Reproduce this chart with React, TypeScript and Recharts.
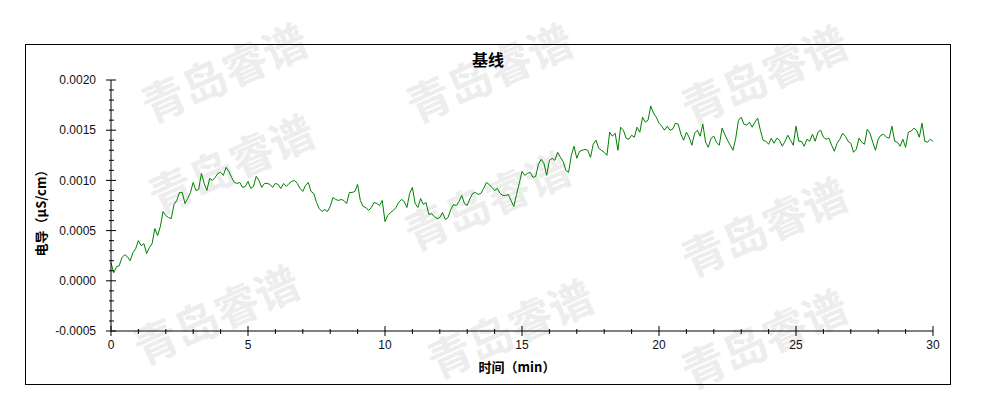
import { LineChart, Line, XAxis, YAxis } from "recharts"

// 基线 trace, one sample every 0.1 min, values in units of 1e-5 µS/cm
const SAMPLE_STEP_MIN = 0.1
const conductivityE5 = [
  18, 8, 14, 15, 23, 26, 24, 20, 28, 32,
  40, 35, 37, 27, 33, 37, 52, 45, 54, 69,
  65, 63, 62, 76, 80, 88, 88, 77, 82, 88,
  98, 90, 91, 107, 97, 90, 102, 100, 103, 107,
  108, 105, 113, 109, 103, 98, 97, 98, 93, 94,
  99, 92, 94, 104, 100, 93, 97, 97, 96, 93,
  97, 96, 92, 97, 94, 97, 99, 100, 97, 92,
  89, 95, 98, 89, 87, 78, 72, 69, 71, 69,
  74, 83, 81, 80, 81, 80, 77, 88, 88, 89,
  96, 80, 74, 73, 70, 73, 78, 77, 75, 80,
  59, 65, 68, 70, 73, 78, 81, 79, 73, 87,
  93, 77, 73, 82, 76, 78, 66, 67, 64, 62,
  63, 68, 61, 63, 71, 76, 75, 79, 85, 77,
  75, 82, 87, 88, 86, 87, 92, 98, 96, 93,
  90, 92, 87, 85, 85, 86, 80, 74, 86, 97,
  109, 105, 107, 108, 103, 104, 116, 121, 117, 105,
  120, 122, 120, 128, 123, 119, 110, 108, 125, 134,
  122, 129, 130, 131, 130, 123, 136, 140, 132, 130,
  128, 125, 148, 144, 147, 130, 153, 150, 142, 141,
  145, 143, 153, 148, 163, 158, 160, 174, 167, 163,
  157, 154, 150, 154, 150, 151, 157, 156, 146, 140,
  148, 143, 135, 147, 150, 144, 156, 138, 133, 142,
  144, 138, 135, 152, 146, 140, 135, 130, 142, 160,
  163, 156, 155, 158, 153, 158, 162, 150, 140, 139,
  136, 142, 137, 142, 140, 134, 139, 145, 140, 135,
  154, 139, 139, 134, 141, 139, 146, 139, 148, 150,
  143, 141, 142, 135, 129, 137, 141, 147, 144, 139,
  137, 128, 131, 142, 138, 136, 151, 147, 138, 130,
  141, 145, 146, 143, 142, 154, 139, 138, 134, 141,
  133, 148, 149, 152, 150, 143, 157, 139, 138, 141, 139,
]

const xTicks = [
  0, 1, 2, 3, 4, 5, 6, 7, 8, 9, 10, 11, 12, 13, 14, 15,
  16, 17, 18, 19, 20, 21, 22, 23, 24, 25, 26, 27, 28, 29, 30,
]
const yTicks = [
  -0.0005, -0.0004, -0.0003, -0.0002, -0.0001, 0, 0.0001, 0.0002, 0.0003,
  0.0004, 0.0005, 0.0006, 0.0007, 0.0008, 0.0009, 0.001, 0.0011, 0.0012,
  0.0013, 0.0014, 0.0015, 0.0016, 0.0017, 0.0018, 0.0019, 0.002,
]

const title = "基线"
const xTitle = "时间（min）"
const yTitle = "电导（μS/cm）"
const watermarkText = "青岛睿谱"
// watermark centres (page px)
const watermarks = [
  [225, 74], [490, 74], [765, 76],
  [232, 165], [488, 202], [765, 228],
  [217, 316], [511, 330], [765, 340],
]

const chartData = conductivityE5.map((v, i) => ({
  time: +(i * SAMPLE_STEP_MIN).toFixed(1),
  value: v * 1e-5,
}))

const tickFont = { fontFamily: "'Liberation Sans', Arial, sans-serif", fontSize: 12, fill: "#111" }
const cjkBold = { fontFamily: "'Noto Sans CJK SC', sans-serif", fontWeight: 700, fill: "#000" }

const isMajorX = (v: number) => v % 5 === 0
const isMajorY = (v: number) => Math.round(v * 1e4) % 5 === 0

function BottomTick({ x, y, payload }: any) {
  const major = isMajorX(payload.value)
  return (
    <g>
      <line x1={x} x2={x} y1={y - (major ? 5 : 2)} y2={y + (major ? 5 : 3)} stroke="#000" />
      {major && (
        <text x={x} y={y + 14} dy="0.35em" textAnchor="middle" {...tickFont}>
          {payload.value}
        </text>
      )}
    </g>
  )
}

function TopTick({ x, y, payload }: any) {
  const major = isMajorX(payload.value)
  return <line x1={x} x2={x} y1={y} y2={y + (major ? 6 : 4)} stroke="#000" />
}

function LeftTick({ x, y, payload }: any) {
  const major = isMajorY(payload.value)
  return (
    <g>
      <line x1={x - (major ? 5 : 2)} x2={x + (major ? 5 : 3)} y1={y} y2={y} stroke="#000" />
      {major && (
        <text x={x - 15} y={y} dy="0.35em" textAnchor="end" {...tickFont}>
          {payload.value.toFixed(4)}
        </text>
      )}
    </g>
  )
}

function RightTick({ x, y, payload }: any) {
  const major = isMajorY(payload.value)
  return <line x1={x - (major ? 6 : 4)} x2={x} y1={y} y2={y} stroke="#000" />
}

export default function App() {
  const W = 990
  const H = 400
  return (
    <div style={{ position: "relative", width: W, height: H }}>
      {/* watermark layer, in page coordinates */}
      <svg width={1006} height={413} style={{ position: "absolute", left: -8, top: -8 }}>
        {watermarks.map(([cx, cy], i) => (
          <text
            key={i}
            x={cx}
            y={cy}
            dy="0.35em"
            textAnchor="middle"
            transform={`rotate(-24 ${cx} ${cy})`}
            fontFamily="'Noto Sans CJK SC', sans-serif"
            fontWeight={700}
            fontSize={44}
            fill="#ededed"
          >
            {watermarkText}
          </text>
        ))}
      </svg>

      {/* outer frame */}
      <div
        style={{
          position: "absolute",
          left: 17,
          top: 36,
          width: 926,
          height: 341,
          boxSizing: "border-box",
          border: "1px solid #000",
        }}
      />

      <div style={{ position: "absolute", left: 0, top: 0 }}>
        <LineChart width={W} height={H} data={chartData} margin={{ top: 72, right: 65, bottom: 0, left: 0 }}>
          <XAxis
            dataKey="time"
            type="number"
            domain={[0, 30]}
            ticks={xTicks}
            interval={0}
            height={77}
            tickSize={0}
            tickMargin={0}
            tickLine={false}
            axisLine={{ stroke: "#000" }}
            tick={BottomTick}
          />
          <XAxis
            xAxisId="top"
            orientation="top"
            dataKey="time"
            type="number"
            domain={[0, 30]}
            ticks={xTicks}
            interval={0}
            height={0}
            tickSize={0}
            tickMargin={0}
            tickLine={false}
            axisLine={{ stroke: "#000" }}
            tick={TopTick}
          />
          <YAxis
            type="number"
            domain={[-0.0005, 0.002]}
            ticks={yTicks}
            interval={0}
            width={103}
            tickSize={0}
            tickMargin={0}
            tickLine={false}
            axisLine={{ stroke: "#000" }}
            tick={LeftTick}
          />
          <YAxis
            yAxisId="right"
            orientation="right"
            type="number"
            domain={[-0.0005, 0.002]}
            ticks={yTicks}
            interval={0}
            width={0}
            tickSize={0}
            tickMargin={0}
            tickLine={false}
            axisLine={{ stroke: "#000" }}
            tick={RightTick}
          />
          <Line
            type="linear"
            dataKey="value"
            stroke="#008000"
            strokeWidth={1}
            dot={false}
            isAnimationActive={false}
          />
        </LineChart>
      </div>

      {/* titles */}
      <svg width={W} height={H} style={{ position: "absolute", left: 0, top: 0, pointerEvents: "none" }}>
        <text x={480} y={52} dy="0.35em" textAnchor="middle" fontSize={16} {...cjkBold}>
          {title}
        </text>
        <text x={509} y={359} dy="0.35em" textAnchor="middle" fontSize={13} {...cjkBold}>
          {xTitle}
        </text>
        <text
          x={33}
          y={202}
          dy="0.35em"
          textAnchor="middle"
          fontSize={13}
          transform="rotate(-90 33 202)"
          {...cjkBold}
        >
          {yTitle}
        </text>
      </svg>
    </div>
  )
}
